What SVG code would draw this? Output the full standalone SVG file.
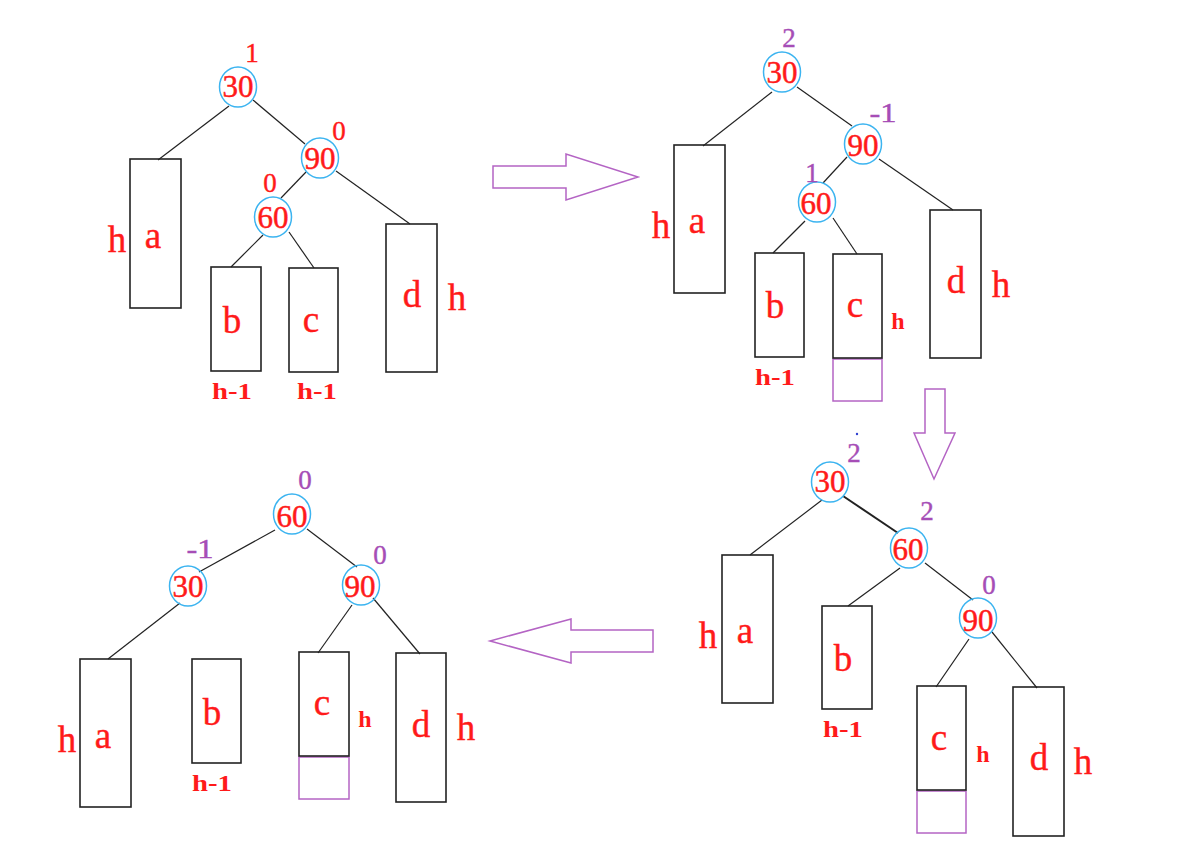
<svg xmlns="http://www.w3.org/2000/svg" width="1192" height="846" viewBox="0 0 1192 846">
<style>
.bg{fill:#fff}
.edge{stroke:#222;stroke-width:1.2;fill:none}
.box{stroke:#222;stroke-width:1.6;fill:none}
.ext{stroke:#b464c4;stroke-width:1.5;fill:none}
.arrow{stroke:#b464c4;stroke-width:1.5;fill:none}
.ring{stroke:#3cb4f0;stroke-width:1.5;fill:none}
text{font-family:"Liberation Serif","DejaVu Serif",serif;text-anchor:middle}
.key{fill:#ff1a1a;font-size:31px;stroke:#ff1a1a;stroke-width:0.5}
.big{fill:#ff1a1a;font-size:37px;stroke:#ff1a1a;stroke-width:0.4}
.sm{fill:#ff1a1a;font-size:24px;font-weight:bold}
.bfr{fill:#ff1a1a;font-size:27px;stroke:#ff1a1a;stroke-width:0.4}
.bfp{fill:#a64db6;font-size:27px;stroke:#a64db6;stroke-width:0.4}
</style>
<rect class="bg" x="0" y="0" width="1192" height="846"/>

<g id="connectors">
  <!-- panel 1 -->
  <line class="edge" x1="229" y1="106" x2="158" y2="160"/>
  <line class="edge" x1="253" y1="100" x2="305" y2="144"/>
  <line class="edge" x1="306" y1="172" x2="281" y2="198"/>
  <line class="edge" x1="263" y1="235" x2="231" y2="267"/>
  <line class="edge" x1="289" y1="232" x2="314" y2="268"/>
  <line class="edge" x1="336" y1="171" x2="410" y2="224"/>
  <!-- panel 2 -->
  <line class="edge" x1="772" y1="92" x2="703" y2="146"/>
  <line class="edge" x1="797" y1="87" x2="852" y2="126"/>
  <line class="edge" x1="847" y1="157" x2="823" y2="183"/>
  <line class="edge" x1="805" y1="221" x2="773" y2="253"/>
  <line class="edge" x1="833" y1="218" x2="857" y2="254"/>
  <line class="edge" x1="879" y1="159" x2="953" y2="210"/>
  <!-- panel 3 -->
  <line class="edge" x1="822" y1="500" x2="750" y2="555"/>
  <line class="edge" x1="843" y1="496" x2="898" y2="533" style="stroke-width:2"/>
  <line class="edge" x1="900" y1="568" x2="848" y2="606"/>
  <line class="edge" x1="925" y1="563" x2="973" y2="600"/>
  <line class="edge" x1="969" y1="639" x2="936" y2="687"/>
  <line class="edge" x1="992" y1="632" x2="1037" y2="688"/>
  <!-- panel 4 -->
  <line class="edge" x1="275" y1="530" x2="199" y2="572"/>
  <line class="edge" x1="180" y1="603" x2="108" y2="659"/>
  <line class="edge" x1="307" y1="529" x2="357" y2="567"/>
  <line class="edge" x1="352" y1="605" x2="318" y2="653"/>
  <line class="edge" x1="373" y1="598" x2="420" y2="654"/>
</g>

<g id="transition-arrows">
  <polygon class="arrow" points="493,166 566,166 566,154 638,177 566,200 566,188 493,188"/>
  <polygon class="arrow" points="925,389 945,389 945,433 955,433 934,479 914,433 925,433"/>
  <polygon class="arrow" points="653,630 571,630 571,619 490,641 571,663 571,652 653,652"/>
</g>

<!-- ===== Panel 1 ===== -->
<g id="p1-n30"><ellipse class="ring" cx="238" cy="87" rx="18.5" ry="20"/><text class="key" x="238" y="97">30</text><text class="bfr" x="252" y="62">1</text></g>
<g id="p1-n90"><ellipse class="ring" cx="320" cy="158" rx="18.5" ry="20"/><text class="key" x="320" y="169">90</text><text class="bfr" x="339" y="140">0</text></g>
<g id="p1-n60"><ellipse class="ring" cx="273" cy="217" rx="18.5" ry="20"/><text class="key" x="273" y="228">60</text><text class="bfr" x="270" y="192">0</text></g>
<g id="p1-a"><rect class="box" x="130" y="159" width="51" height="149"/><text class="big" x="153" y="248">a</text><text class="big" x="117" y="252">h</text></g>
<g id="p1-b"><rect class="box" x="211" y="267" width="50" height="104"/><text class="big" x="232" y="333">b</text><text class="sm" x="232" y="399" textLength="40" lengthAdjust="spacingAndGlyphs">h-1</text></g>
<g id="p1-c"><rect class="box" x="289" y="268" width="49" height="104"/><text class="big" x="311" y="332">c</text><text class="sm" x="317" y="399" textLength="40" lengthAdjust="spacingAndGlyphs">h-1</text></g>
<g id="p1-d"><rect class="box" x="386" y="224" width="51" height="148"/><text class="big" x="412" y="307">d</text><text class="big" x="457" y="310">h</text></g>

<!-- ===== Panel 2 ===== -->
<g id="p2-n30"><ellipse class="ring" cx="782" cy="72" rx="18.5" ry="20"/><text class="key" x="782" y="83">30</text><text class="bfp" x="789" y="47">2</text></g>
<g id="p2-n90"><ellipse class="ring" cx="863" cy="144" rx="18.5" ry="20"/><text class="key" x="863" y="156">90</text><text class="bfp" x="883" y="122" textLength="27" lengthAdjust="spacingAndGlyphs">-1</text></g>
<g id="p2-n60"><ellipse class="ring" cx="817" cy="202" rx="18.5" ry="20"/><text class="key" x="816" y="214">60</text><text class="bfp" x="812" y="182">1</text></g>
<g id="p2-a"><rect class="box" x="674" y="145" width="51" height="148"/><text class="big" x="697" y="233">a</text><text class="big" x="661" y="238">h</text></g>
<g id="p2-b"><rect class="box" x="755" y="253" width="49" height="104"/><text class="big" x="775" y="318">b</text><text class="sm" x="775" y="385" textLength="40" lengthAdjust="spacingAndGlyphs">h-1</text></g>
<g id="p2-c"><rect class="ext" x="833" y="359" width="49" height="42"/><rect class="box" x="833" y="254" width="49" height="104"/><text class="big" x="855" y="317">c</text><text class="sm" x="898" y="329">h</text></g>
<g id="p2-d"><rect class="box" x="930" y="210" width="51" height="148"/><text class="big" x="956" y="293">d</text><text class="big" x="1001" y="297">h</text></g>

<!-- ===== Panel 3 ===== -->
<circle cx="857" cy="434" r="1.2" fill="#3040d0"/>
<g id="p3-n30"><ellipse class="ring" cx="830" cy="482" rx="18.5" ry="20"/><text class="key" x="830" y="492">30</text><text class="bfp" x="854" y="462">2</text></g>
<g id="p3-n60"><ellipse class="ring" cx="909" cy="548" rx="18.5" ry="20"/><text class="key" x="908" y="560">60</text><text class="bfp" x="927" y="520">2</text></g>
<g id="p3-n90"><ellipse class="ring" cx="978" cy="618" rx="18.5" ry="20"/><text class="key" x="978" y="631">90</text><text class="bfp" x="989" y="594">0</text></g>
<g id="p3-a"><rect class="box" x="722" y="555" width="51" height="148"/><text class="big" x="745" y="643">a</text><text class="big" x="708" y="648">h</text></g>
<g id="p3-b"><rect class="box" x="822" y="606" width="50" height="103"/><text class="big" x="843" y="671">b</text><text class="sm" x="843" y="737" textLength="40" lengthAdjust="spacingAndGlyphs">h-1</text></g>
<g id="p3-c"><rect class="ext" x="917" y="791" width="49" height="42"/><rect class="box" x="917" y="686" width="49" height="104"/><text class="big" x="939" y="750">c</text><text class="sm" x="983" y="762">h</text></g>
<g id="p3-d"><rect class="box" x="1013" y="687" width="51" height="149"/><text class="big" x="1039" y="770">d</text><text class="big" x="1083" y="774">h</text></g>

<!-- ===== Panel 4 ===== -->
<g id="p4-n60"><ellipse class="ring" cx="292" cy="514" rx="18.5" ry="20"/><text class="key" x="292" y="527">60</text><text class="bfp" x="305" y="489">0</text></g>
<g id="p4-n30"><ellipse class="ring" cx="188" cy="586" rx="18.5" ry="20"/><text class="key" x="188" y="597">30</text><text class="bfp" x="200" y="558" textLength="27" lengthAdjust="spacingAndGlyphs">-1</text></g>
<g id="p4-n90"><ellipse class="ring" cx="361" cy="585" rx="18.5" ry="20"/><text class="key" x="360" y="597">90</text><text class="bfp" x="380" y="564">0</text></g>
<g id="p4-a"><rect class="box" x="80" y="659" width="51" height="148"/><text class="big" x="103" y="748">a</text><text class="big" x="67" y="752">h</text></g>
<g id="p4-b"><rect class="box" x="192" y="659" width="49" height="104"/><text class="big" x="212" y="725">b</text><text class="sm" x="212" y="791" textLength="40" lengthAdjust="spacingAndGlyphs">h-1</text></g>
<g id="p4-c"><rect class="ext" x="299" y="757" width="50" height="42"/><rect class="box" x="299" y="652" width="50" height="104"/><text class="big" x="322" y="715">c</text><text class="sm" x="365" y="727">h</text></g>
<g id="p4-d"><rect class="box" x="396" y="653" width="50" height="149"/><text class="big" x="421" y="737">d</text><text class="big" x="466" y="740">h</text></g>
</svg>
